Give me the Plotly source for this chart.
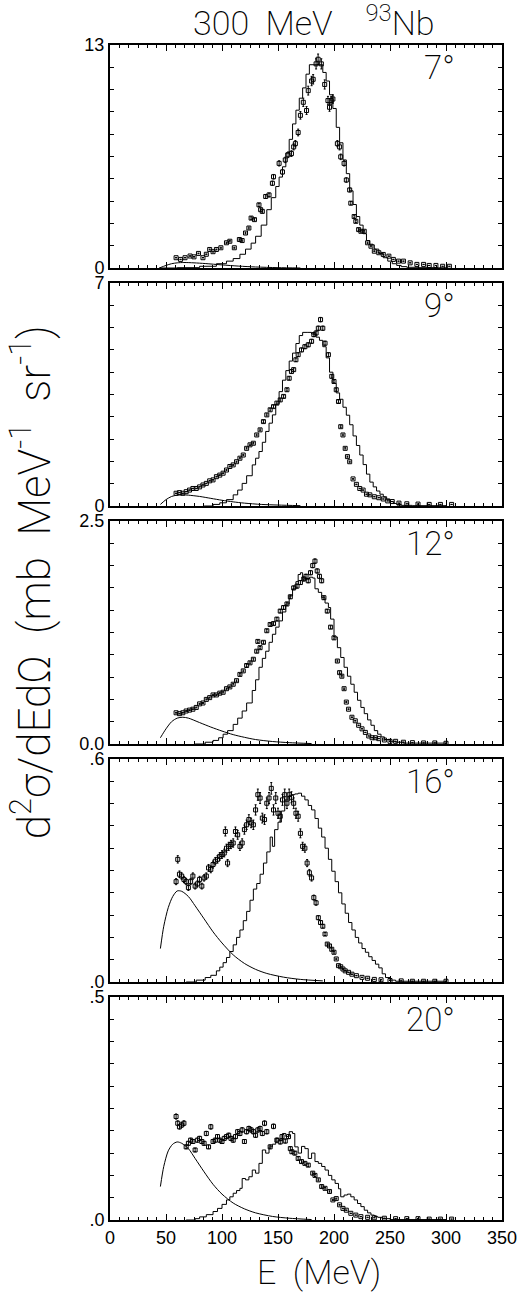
import numpy as np
import plotly.graph_objects as go
from plotly.subplots import make_subplots

# ---------------- data ----------------
angle_labels = ["7°", "9°", "12°", "16°", "20°"]
y_tops = [13, 7, 2.5, 0.6, 0.5]
y_top_labels = ["13", "7", "2.5", ".6", ".5"]
y_bottom_labels = ["0", "0", "0.0", ".0", ".0"]
x_tick_labels = ["0", "50", "100", "150", "200", "250", "300", "350"]

# Panel 1 (7 deg)
exp1_E = [59, 63, 67, 71.5, 75, 79, 83, 86, 89, 92, 95, 99, 104, 107, 111, 115.5, 118, 121, 124, 126, 129,
          133, 134.5, 136, 139, 142, 145, 146, 151, 154, 156.5, 159, 162, 164, 165.5, 168, 170, 172.6, 175.5,
          177, 180, 181.4, 184, 185.8, 188.7, 191.7, 194.6, 196, 197.5, 199, 203, 205, 206, 209, 211, 214,
          215, 218, 219.5, 222, 224, 227, 230, 233, 236, 240, 244, 249, 253, 257.6, 262, 268, 274, 280, 285,
          291, 297, 303]
exp1_v = [0.6, 0.5, 0.6, 0.7, 0.65, 0.85, 0.6, 0.8, 1.08, 0.95, 1.08, 1.18, 1.47, 1.56, 1.18, 1.66, 1.6, 2.04, 2.33,
          2.91, 2.82, 3.68, 3.4, 3.3, 4.17, 4.26, 4.94, 5.32, 6.1, 5.6, 6.3, 6.6, 6.67, 7.06, 7.25, 7.9, 8.9, 9.66,
          9.18, 10.34, 10.9, 11.0, 11.9, 12.17, 11.9, 10.7, 9.76, 9.37, 9.76, 9.85, 7.25, 7.06, 6.48, 6.1, 5.13,
          4.55, 3.78, 3.0, 2.72, 2.24, 2.14, 2.14, 1.47, 1.27, 0.98, 0.89, 0.79, 0.69, 0.5, 0.4, 0.4, 0.3, 0.21,
          0.21, 0.15, 0.15, 0.1, 0.1]
calc1_E = [44, 60, 80, 95, 104, 110, 116, 121, 126, 130, 135, 140, 144, 148, 151, 154, 157, 160, 163, 166, 169, 172,
           175, 178, 183, 187, 190, 193, 196, 199, 202, 205, 208, 211, 214, 217, 220, 223, 226, 229, 232, 236, 240,
           244, 248, 252, 256, 260, 265, 275, 290, 300]
calc1_v = [0, 0.02, 0.1, 0.25, 0.4, 0.55, 0.8, 1.1, 1.45, 1.85, 2.5, 3.4, 4.1, 4.75, 5.3, 5.9, 6.7, 7.5, 8.4, 9.2,
           9.9, 10.5, 11.3, 11.85, 11.85, 11.85, 11.4, 10.9, 10.1, 9.3, 8.2, 7.3, 6.3, 5.5, 4.5, 3.7, 3.0, 2.5, 2.0,
           1.6, 1.35, 1.1, 0.85, 0.6, 0.4, 0.25, 0.15, 0.08, 0.04, 0.02, 0.01, 0.0]
comp1_E = [44, 50, 55, 60, 66, 75, 85, 100, 115, 130, 150, 170]
comp1_v = [0.0, 0.15, 0.25, 0.3, 0.32, 0.3, 0.26, 0.18, 0.11, 0.06, 0.02, 0.0]

# Panel 2 (9 deg)
exp2_E = [59, 62, 65, 68, 71, 74, 77, 80, 83, 86, 89, 92, 95, 98, 101, 104, 107, 110, 113, 116, 119, 122, 125, 128,
          131, 134, 137, 140, 143, 146, 149, 152, 155, 158, 160, 162, 164, 166, 168, 171, 174, 177, 180, 182, 184,
          186, 188, 190, 192, 195, 198, 200, 202, 204, 206, 208, 210, 212, 214, 217, 220, 223, 226, 229, 232, 236,
          240, 244, 248, 252, 258, 265, 275, 285, 295, 305]
exp2_v = [0.4, 0.42, 0.4, 0.45, 0.5, 0.55, 0.55, 0.6, 0.66, 0.71, 0.79, 0.82, 0.92, 0.97, 1.03, 1.13, 1.24, 1.29,
          1.39, 1.5, 1.6, 1.81, 1.92, 1.97, 2.23, 2.39, 2.65, 2.86, 3.02, 3.12, 3.23, 3.33, 3.44, 3.65, 4.01, 4.22,
          4.28, 4.59, 4.75, 4.9, 5.0, 5.06, 5.17, 5.38, 5.43, 5.58, 5.85, 5.58, 5.11, 4.75, 4.07, 3.91, 3.65, 3.28,
          2.49, 2.23, 1.81, 1.55, 1.39, 0.85, 0.68, 0.55, 0.5, 0.37, 0.35, 0.29, 0.26, 0.22, 0.16, 0.14, 0.09, 0.07,
          0.06, 0.05, 0.05, 0.05]
calc2_E = [84, 92, 98, 104, 110, 114, 118, 122, 127, 130, 133, 136, 139, 142, 145, 148, 151, 154, 157, 160, 163, 166,
           169, 172, 176, 180, 184, 187, 190, 193, 196, 199, 202, 205, 208, 211, 214, 217, 220, 223, 226, 229, 232,
           235, 238, 241, 244, 247, 250, 253, 256, 260, 270, 300]
calc2_v = [0, 0.05, 0.1, 0.2, 0.35, 0.5, 0.71, 0.95, 1.29, 1.5, 1.71, 2.0, 2.34, 2.6, 2.86, 3.2, 3.59, 3.95, 4.25,
           4.55, 4.8, 5.1, 5.35, 5.45, 5.45, 5.4, 5.3, 5.2, 5.0, 4.65, 4.2, 3.85, 3.55, 3.35, 3.1, 2.85, 2.55, 2.2,
           1.9, 1.6, 1.3, 1.0, 0.75, 0.6, 0.47, 0.37, 0.29, 0.2, 0.14, 0.08, 0.05, 0.02, 0.01, 0.0]
comp2_E = [45, 50, 55, 60, 65, 70, 80, 90, 100, 110, 120, 135, 150, 170]
comp2_v = [0.05, 0.2, 0.3, 0.34, 0.35, 0.34, 0.3, 0.24, 0.18, 0.13, 0.09, 0.05, 0.03, 0.01]

# Panel 3 (12 deg)
exp3_E = [59, 62, 65, 68, 71, 74, 77, 80, 83, 86, 89, 92, 95, 98, 101, 104, 107, 110, 113, 116, 119, 122, 125, 128,
          131, 132, 134, 137, 140, 143, 146, 149, 152, 155, 158, 161, 164, 167, 170, 173, 175, 177, 179, 181, 183,
          185, 187, 189, 191, 194, 197, 200, 203, 205, 207, 209, 211, 213, 216, 219, 222, 225, 228, 231, 234, 237,
          240, 245, 250, 255, 262, 270, 280, 290, 300]
exp3_v = [0.35, 0.34, 0.35, 0.37, 0.38, 0.39, 0.41, 0.45, 0.46, 0.5, 0.52, 0.55, 0.55, 0.57, 0.58, 0.62, 0.64, 0.67,
          0.71, 0.78, 0.82, 0.88, 0.91, 0.95, 1.04, 1.15, 1.08, 1.14, 1.27, 1.34, 1.35, 1.4, 1.49, 1.53, 1.57, 1.65,
          1.75, 1.77, 1.81, 1.85, 1.88, 1.83, 1.92, 2.0, 2.05, 1.94, 1.88, 1.83, 1.64, 1.49, 1.31, 1.19, 0.93, 0.8,
          0.76, 0.62, 0.47, 0.39, 0.3, 0.26, 0.21, 0.17, 0.13, 0.09, 0.07, 0.07, 0.06, 0.045, 0.03, 0.03, 0.02, 0.015,
          0.012, 0.012, 0.008]
calc3_E = [76, 85, 92, 97, 101, 105, 110, 114, 118, 122, 127, 130, 133, 136, 139, 142, 145, 148, 151, 154, 157, 160,
           163, 166, 168, 170, 172, 175, 178, 181, 183, 186, 189, 192, 195, 197, 200, 203, 206, 209, 212, 215, 218,
           221, 224, 227, 230, 233, 236, 239, 242, 245, 250, 255, 262, 300]
calc3_v = [0, 0.02, 0.04, 0.07, 0.11, 0.15, 0.22, 0.29, 0.37, 0.46, 0.6, 0.72, 0.86, 0.96, 1.04, 1.14, 1.23, 1.31,
           1.38, 1.48, 1.57, 1.66, 1.74, 1.82, 1.9, 1.92, 1.84, 1.85, 1.87, 1.86, 1.74, 1.7, 1.64, 1.58, 1.53, 1.4,
           1.2, 1.08, 0.97, 0.86, 0.76, 0.67, 0.58, 0.49, 0.41, 0.34, 0.27, 0.21, 0.15, 0.11, 0.08, 0.05, 0.03, 0.02,
           0.01, 0.0]
comp3_E = [45, 50, 55, 60, 65, 70, 80, 90, 100, 110, 120, 130, 145, 160, 180]
comp3_v = [0.07, 0.17, 0.25, 0.29, 0.3, 0.29, 0.24, 0.19, 0.145, 0.105, 0.075, 0.05, 0.028, 0.015, 0.005]

# Panel 4 (16 deg)
exp4_E = [59, 60.5, 62, 64, 66, 68, 70, 72, 74, 76, 78, 80, 82, 84, 86, 88, 90, 92, 94, 96, 98, 100, 102, 103, 104,
          105, 106, 108, 110, 112, 114, 116, 118, 120, 122, 124, 126, 128, 130, 132, 134, 136, 138, 140, 142, 144,
          146, 148, 150, 152, 154, 156, 158, 160, 162, 164, 166, 168, 170, 172, 174, 176, 178, 180, 182, 184, 186,
          188, 190, 192, 194, 196, 198, 200, 202, 204, 206, 208, 210, 213, 216, 220, 225, 230, 236, 242, 250, 260,
          270, 280, 290, 300]
exp4_v = [0.27, 0.33, 0.29, 0.285, 0.276, 0.27, 0.254, 0.27, 0.285, 0.258, 0.264, 0.276, 0.258, 0.28, 0.285, 0.307,
          0.303, 0.316, 0.325, 0.33, 0.338, 0.343, 0.347, 0.405, 0.36, 0.32, 0.365, 0.37, 0.374, 0.405, 0.396, 0.365,
          0.374, 0.41, 0.423, 0.437, 0.428, 0.423, 0.463, 0.504, 0.495, 0.441, 0.437, 0.481, 0.495, 0.521, 0.463,
          0.495, 0.454, 0.446, 0.49, 0.504, 0.481, 0.504, 0.497, 0.481, 0.454, 0.446, 0.4, 0.365, 0.36, 0.32, 0.294,
          0.28, 0.227, 0.213, 0.173, 0.16, 0.15, 0.129, 0.102, 0.097, 0.088, 0.08, 0.062, 0.044, 0.041, 0.035, 0.03,
          0.026, 0.021, 0.017, 0.0125, 0.01, 0.007, 0.006, 0.004, 0.003, 0.002, 0.002, 0.002, 0.002]
calc4_E = [68, 77, 85, 90, 95, 98, 101, 104, 107, 110, 113, 116, 119, 122, 125, 128, 131, 134, 137, 140, 143, 145,
           147, 150, 153, 156, 159, 162, 165, 168, 171, 174, 177, 180, 183, 186, 189, 192, 195, 198, 201, 204, 207,
           210, 213, 216, 219, 222, 225, 228, 231, 234, 237, 240, 243, 246, 250, 255, 300]
calc4_v = [0, 0.005, 0.012, 0.018, 0.03, 0.04, 0.052, 0.066, 0.082, 0.1, 0.12, 0.14, 0.165, 0.19, 0.22, 0.25, 0.265,
           0.29, 0.32, 0.35, 0.39, 0.365, 0.41, 0.43, 0.46, 0.49, 0.5, 0.504, 0.506, 0.508, 0.5, 0.49, 0.475, 0.463,
           0.44, 0.414, 0.39, 0.36, 0.33, 0.298, 0.27, 0.24, 0.21, 0.185, 0.16, 0.14, 0.12, 0.105, 0.09, 0.08, 0.068,
           0.058, 0.048, 0.038, 0.022, 0.012, 0.005, 0.002, 0.0]
comp4_E = [45, 48, 52, 56, 60, 64, 70, 76, 84, 92, 100, 110, 120, 130, 140, 155, 170, 190]
comp4_v = [0.09, 0.15, 0.2, 0.23, 0.245, 0.244, 0.23, 0.205, 0.17, 0.135, 0.105, 0.073, 0.05, 0.034, 0.023, 0.013,
           0.007, 0.003]

# Panel 5 (20 deg)
exp5_E = [59, 60.5, 62, 64, 66, 68, 70, 72, 74, 76, 78, 80, 82, 84, 86, 88, 90, 92, 94, 96, 98, 100, 102, 104, 106,
          108, 110, 112, 114, 116, 118, 120, 122, 124, 126, 128, 130, 132, 134, 136, 138, 140, 143, 146, 149, 152,
          153.6, 156.5, 159.4, 161, 162.4, 165, 168, 171, 174, 177, 181, 183, 186, 189, 192, 196, 199, 202, 205,
          208, 211, 215, 219.5, 224, 230, 236, 245, 255, 265, 275, 285, 295, 305]
exp5_v = [0.232, 0.217, 0.209, 0.213, 0.217, 0.164, 0.172, 0.179, 0.176, 0.157, 0.179, 0.183, 0.176, 0.172, 0.194,
          0.164, 0.209, 0.176, 0.179, 0.187, 0.179, 0.176, 0.183, 0.187, 0.19, 0.183, 0.179, 0.187, 0.198, 0.194,
          0.202, 0.176, 0.198, 0.205, 0.202, 0.198, 0.19, 0.202, 0.205, 0.194, 0.217, 0.198, 0.164, 0.21, 0.179,
          0.175, 0.187, 0.177, 0.187, 0.16, 0.153, 0.15, 0.138, 0.131, 0.127, 0.123, 0.105, 0.1, 0.09, 0.075, 0.071,
          0.064, 0.045, 0.048, 0.034, 0.026, 0.022, 0.015, 0.011, 0.0075, 0.006, 0.005, 0.004, 0.003, 0.003, 0.003,
          0.002, 0.002, 0.002]
calc5_E = [68, 76, 80, 86, 92, 96, 100, 104, 107, 110, 113, 116, 118, 121, 124, 127, 130, 133, 136, 139, 142, 145,
           148, 151, 154, 157, 160, 163, 165, 168, 171, 174, 177, 180, 183, 186, 189, 192, 195, 198, 201, 204, 206,
           209, 212, 215, 218, 221, 224, 227, 230, 233, 236, 239, 243, 250, 300]
calc5_v = [0, 0.003, 0.007, 0.012, 0.019, 0.026, 0.035, 0.045, 0.052, 0.06, 0.066, 0.071, 0.093, 0.09, 0.097, 0.112,
           0.105, 0.127, 0.157, 0.15, 0.164, 0.17, 0.183, 0.178, 0.194, 0.187, 0.198, 0.194, 0.164, 0.15, 0.165, 0.16,
           0.138, 0.15, 0.131, 0.127, 0.12, 0.112, 0.1, 0.09, 0.082, 0.07, 0.052, 0.056, 0.058, 0.052, 0.045, 0.037,
           0.03, 0.022, 0.016, 0.011, 0.008, 0.006, 0.003, 0.001, 0.0]
comp5_E = [45, 48, 52, 56, 60, 64, 70, 76, 84, 92, 100, 110, 120, 130, 145, 160, 180]
comp5_v = [0.075, 0.12, 0.155, 0.17, 0.175, 0.172, 0.16, 0.138, 0.108, 0.08, 0.058, 0.038, 0.025, 0.016, 0.008,
           0.004, 0.001]

exp_E = [exp1_E, exp2_E, exp3_E, exp4_E, exp5_E]
exp_v = [exp1_v, exp2_v, exp3_v, exp4_v, exp5_v]
calc_E = [calc1_E, calc2_E, calc3_E, calc4_E, calc5_E]
calc_v = [calc1_v, calc2_v, calc3_v, calc4_v, calc5_v]
comp_E = [comp1_E, comp2_E, comp3_E, comp4_E, comp5_E]
comp_v = [comp1_v, comp2_v, comp3_v, comp4_v, comp5_v]
err_pct = [2.5, 1.2, 1.2, 3.0, 2.5]

# ---------------- figure ----------------
W, H = 529, 1293
ML, MR, MT, MB = 110, 21, 45, 73
plot_w = W - ML - MR
plot_h = H - MT - MB
gap = 15

fig = make_subplots(rows=5, cols=1, vertical_spacing=gap / plot_h)

thin = "Roboto"
thin_w = 200
tick_font = dict(family="Liberation Sans, Arial", size=18, color="black")

for i in range(5):
    r = i + 1
    fig.add_trace(go.Scatter(x=calc_E[i], y=calc_v[i], mode="lines", line=dict(color="black", width=1, shape="hv"),
                             showlegend=False, hoverinfo="skip"), row=r, col=1)
    fig.add_trace(go.Scatter(x=comp_E[i], y=comp_v[i], mode="lines",
                             line=dict(color="black", width=1, shape="spline", smoothing=0.8),
                             showlegend=False, hoverinfo="skip"), row=r, col=1)
    fig.add_trace(go.Scatter(x=exp_E[i], y=exp_v[i], mode="markers",
                             marker=dict(symbol="square-open", size=4, color="black", line=dict(width=1, color="black")),
                             error_y=dict(type="percent", value=err_pct[i], color="black", thickness=1, width=1),
                             showlegend=False), row=r, col=1)

    top = y_tops[i]
    tv = list(np.linspace(0, top, 11))
    tt = [y_bottom_labels[i]] + [""] * 9 + [y_top_labels[i]]
    fig.update_yaxes(row=r, col=1, range=[0, top], tickmode="array", tickvals=tv, ticktext=tt,
                     ticks="inside", ticklen=4, tickwidth=1, tickcolor="black", showgrid=False, zeroline=False,
                     showline=True, linewidth=2, linecolor="black", mirror="ticks", tickfont=tick_font)
    fig.update_xaxes(row=r, col=1, range=[0, 350], tickmode="array", tickvals=[0, 50, 100, 150, 200, 250, 300, 350],
                     ticktext=x_tick_labels, showticklabels=(r == 5),
                     ticks="inside", ticklen=6, tickwidth=1, tickcolor="black", showgrid=False, zeroline=False,
                     showline=True, linewidth=2, linecolor="black", mirror="ticks", tickfont=tick_font,
                     minor=dict(dtick=50 / 6, tick0=0, ticks="inside", ticklen=3, tickcolor="black", showgrid=False))

    xref = "x" if r == 1 else f"x{r}"
    yref = "y" if r == 1 else f"y{r}"
    fig.add_annotation(text=angle_labels[i], xref=xref + " domain", yref=yref + " domain", x=(462 - ML) / plot_w,
                       y=1, xanchor="right", yanchor="top", yshift=-1, showarrow=False,
                       font=dict(family=thin, size=33, color="black", weight=thin_w))

nb = "\u00a0"
fig.add_annotation(text=f"300{nb}{nb}MeV{nb}{nb}{nb}{nb}<sup>93</sup>Nb", xref="paper", yref="paper",
                   x=(317 - ML) / plot_w, y=1, xanchor="center", yanchor="bottom", yshift=0,
                   showarrow=False, font=dict(family=thin, size=34, color="black", weight=thin_w))
fig.add_annotation(text=f"E{nb}{nb}(MeV)", xref="paper", yref="paper",
                   x=(322 - ML) / plot_w, y=0, xanchor="center", yanchor="top", yshift=-30,
                   showarrow=False, font=dict(family=thin, size=34, color="black", weight=thin_w))
fig.add_annotation(text=f"d<sup>2</sup>σ/dEdΩ{nb}{nb}(mb{nb}{nb}MeV<sup>-1</sup>{nb}{nb}sr<sup>-1</sup>)",
                   xref="paper", yref="paper", x=(30 - ML) / plot_w, y=(H - MB - 582) / plot_h,
                   xanchor="center", yanchor="middle", textangle=-90, showarrow=False,
                   font=dict(family=thin, size=44, color="black", weight=thin_w))

fig.update_layout(width=W, height=H, margin=dict(l=ML, r=MR, t=MT, b=MB), plot_bgcolor="white",
                  paper_bgcolor="white", showlegend=False)

fig.write_html("out.html")
